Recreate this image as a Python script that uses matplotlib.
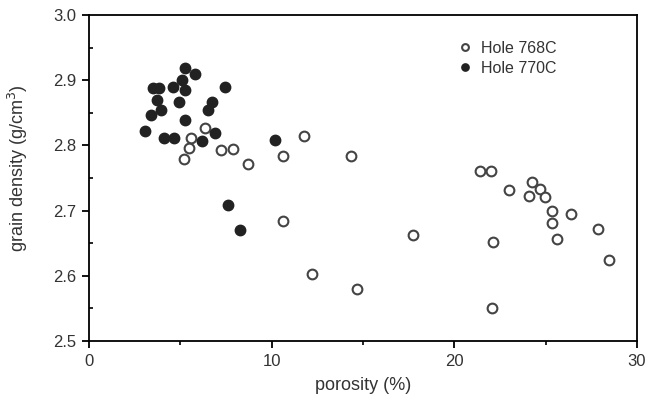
import matplotlib
matplotlib.use("Agg")
import matplotlib.ticker as mticker
from matplotlib import pyplot as plt

# Hole 768C (open circles)
por_768 = [6.36, 5.60, 5.46, 5.22, 7.22, 7.88, 8.68, 10.60, 10.60, 11.78, 14.36,
           12.23, 14.67, 21.43, 22.03, 22.97, 24.27, 24.69, 24.10, 24.98, 25.35,
           25.35, 26.41, 27.87, 25.64, 28.48, 17.71, 22.14, 22.07]
gd_768 = [2.826, 2.811, 2.796, 2.779, 2.793, 2.794, 2.772, 2.783, 2.684, 2.815, 2.783,
          2.602, 2.579, 2.760, 2.760, 2.731, 2.744, 2.733, 2.723, 2.721, 2.699,
          2.681, 2.695, 2.672, 2.657, 2.625, 2.663, 2.652, 2.551]

# Hole 770C (filled circles)
por_770 = [5.25, 5.79, 5.09, 3.48, 3.85, 4.58, 5.27, 7.44, 3.70, 4.93, 6.74, 6.52,
           3.94, 3.39, 5.27, 3.04, 6.92, 4.10, 4.65, 6.19, 10.18, 7.62, 8.26]
gd_770 = [2.919, 2.910, 2.901, 2.888, 2.888, 2.889, 2.885, 2.889, 2.870, 2.867, 2.867,
          2.854, 2.855, 2.847, 2.839, 2.822, 2.819, 2.811, 2.811, 2.807, 2.808, 2.709,
          2.671]

plt.rcParams["font.family"] = ["Liberation Sans", "DejaVu Sans"]
txt = "#333333"

fig = plt.figure(figsize=(6.47, 4.0), dpi=100)
# axes box in pixels: left 89, right 637, top 15, bottom 341
ax = fig.add_axes([89 / 647, 1 - 341 / 400, 548 / 647, 326 / 400])

ax.plot(por_768, gd_768, "o", ls="none", ms=7, mfc="white", mec="#444444",
        mew=1.5, label="Hole 768C")
ax.plot(por_770, gd_770, "o", ls="none", ms=7.5, mfc="#222222", mec="#222222",
        label="Hole 770C")

ax.set_xlim(0, 30)
ax.set_ylim(2.5, 3.0)
ax.xaxis.set_major_locator(mticker.MultipleLocator(10))
ax.xaxis.set_minor_locator(mticker.MultipleLocator(5))
ax.yaxis.set_major_locator(mticker.MultipleLocator(0.1))
ax.yaxis.set_minor_locator(mticker.MultipleLocator(0.05))
ax.yaxis.set_major_formatter(mticker.FormatStrFormatter("%.1f"))

ax.tick_params(which="major", direction="out", length=5, width=1.3,
               labelsize=12, labelcolor=txt, pad=4)
ax.tick_params(axis="y", which="minor", direction="in", length=3, width=1.2)
ax.tick_params(axis="x", which="minor", direction="out", length=3, width=1.2)
ax.spines[:].set_linewidth(1.3)

ax.set_xlabel("porosity (%)", fontsize=13, color=txt, labelpad=6)
ax.set_ylabel("grain density (g/cm$^3$)", fontsize=13, color=txt)
ax.yaxis.set_label_coords(-0.107, 0.53)

ax.legend(loc="upper left", bbox_to_anchor=(0.66, 0.94), frameon=False,
          fontsize=11.5, handlelength=1.0, handletextpad=0.5, labelspacing=0.3,
          borderaxespad=0, markerscale=0.7, labelcolor=txt)

fig.savefig("out.png", dpi=100)
